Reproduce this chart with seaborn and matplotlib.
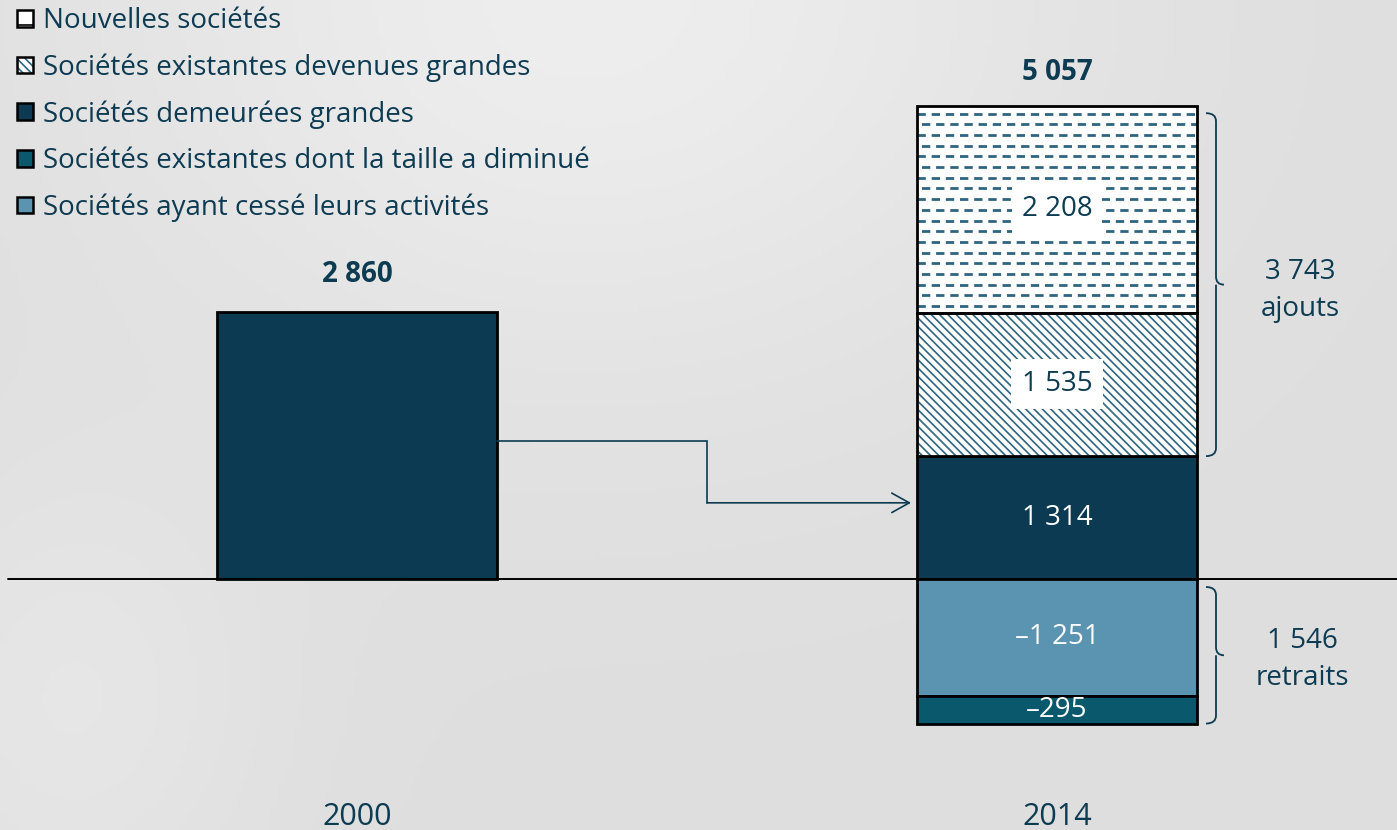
import numpy as np
import pandas as pd
import matplotlib
matplotlib.use("Agg")
import matplotlib.pyplot as plt
from matplotlib.patches import Patch, PathPatch
from matplotlib.path import Path
import seaborn as sns

# ---------------- data ----------------
years = ["2000", "2014"]
value_2000 = 2860
demeurees = 1314
devenues = 1535
nouvelles = 2208
cesse = -1251
diminue = -295
legend_labels = [
    "Nouvelles sociétés",
    "Sociétés existantes devenues grandes",
    "Sociétés demeurées grandes",
    "Sociétés existantes dont la taille a diminué",
    "Sociétés ayant cessé leurs activités",
]
total_2014 = demeurees + devenues + nouvelles
ajouts = devenues + nouvelles
retraits = -(cesse + diminue)

def fmt(v):
    s = f"{abs(v):,}".replace(",", " ")
    return ("\u2013" + s) if v < 0 else s

# ---------------- style ----------------
sns.set_theme(style="white")
plt.rcParams["font.family"] = ["Open Sans", "DejaVu Sans"]
plt.rcParams["lines.scale_dashes"] = False
plt.rcParams["hatch.linewidth"] = 1.2
TXT = "#0d3b52"
C_DEM = "#0c3a52"
C_DIM = "#09586c"
C_CES = "#5b94b1"
C_HATCH = "#2f6580"
FS = 20

W, H = 1397, 830
fig = plt.figure(figsize=(W / 100, H / 100), dpi=100)

# background gradient
bg = fig.add_axes([0, 0, 1, 1], zorder=-5)
yy, xx = np.mgrid[0:1:200j, 0:1:300j]
g = (0.872 + 0.06 * np.exp(-(((xx - 0.42) / 0.35) ** 2 + ((yy - 0.0) / 0.45) ** 2))
     + 0.03 * np.exp(-(((xx - 0.05) / 0.15) ** 2 + ((yy - 0.85) / 0.3) ** 2)))
bg.imshow(np.dstack([g, g, g]).clip(0, 1), aspect="auto", extent=[0, 1, 0, 1])
bg.set_axis_off()

ax = fig.add_axes([0, 0, 1, 1])
ax.patch.set_alpha(0)

# px scale
upp = 10.695            # data units per pixel (vertical)
zero_px = 579
ylim = (-(H - zero_px) * upp, zero_px * upp)
xlim = (-357 / 700, 1 + (W - 1057) / 700)
bw = 0.4

segs = pd.DataFrame({
    "year": ["2000", "2014", "2014", "2014", "2014", "2014"],
    "segment": ["base", "demeurees", "devenues", "nouvelles", "cesse", "diminue"],
    "height": [value_2000, demeurees, devenues, nouvelles, cesse, diminue],
    "bottom": [0, 0, demeurees, demeurees + devenues, 0, cesse],
})

def draw(seg, **kw):
    row = segs[segs.segment == seg]
    n0 = len(ax.patches)
    sns.barplot(data=row, x="year", y="height", order=years, bottom=row["bottom"].iloc[0],
                width=bw, errorbar=None, saturation=1, ax=ax, **kw)
    return ax.patches[n0:]

draw("base", color=C_DEM, edgecolor="black", linewidth=2)
draw("demeurees", color=C_DEM, edgecolor="black", linewidth=2)
draw("devenues", color="white", edgecolor=C_HATCH, linewidth=0, hatch="\\\\\\\\")
p_new = draw("nouvelles", color="white", edgecolor="white", linewidth=0)
draw("cesse", color=C_CES, edgecolor="black", linewidth=2)
draw("diminue", color=C_DIM, edgecolor="black", linewidth=2)

# dashed pattern for "nouvelles"
bot = demeurees + devenues
step = 10.7 * upp
ys = np.arange(bot + step * 0.6, bot + nouvelles, step)
for i, yv in enumerate(ys):
    off = 0 if i % 2 == 0 else 7
    lc = ax.hlines(yv, 1 - bw / 2, 1 + bw / 2, colors=C_HATCH, linewidth=2.0,
                   linestyles=[(off, (6.0, 4.2))], zorder=3)
    for p in p_new:
        lc.set_clip_path(p)

# outlines for hatched segments
for seg in ["devenues", "nouvelles"]:
    row = segs[segs.segment == seg]
    sns.barplot(data=row, x="year", y="height", order=years, bottom=row["bottom"].iloc[0],
                width=bw, errorbar=None, fill=False, color="black", linewidth=2, ax=ax,
                zorder=4)

# zero line
ax.axhline(0, xmin=8 / W, xmax=1, color="black", lw=1.4, zorder=5)

# segment labels
ax.text(1, demeurees / 2, fmt(demeurees), ha="center", va="center", color="white", fontsize=FS)
ax.text(1, demeurees + devenues / 2, fmt(devenues), ha="center", va="center", color=TXT,
        fontsize=FS, zorder=6,
        bbox=dict(boxstyle="square,pad=0.4", fc="white", ec="none"))
ax.text(1, bot + nouvelles / 2, fmt(nouvelles), ha="center", va="center", color=TXT,
        fontsize=FS, zorder=6,
        bbox=dict(boxstyle="square,pad=0.35", fc="white", ec="none"))
ax.text(1, cesse / 2, fmt(cesse), ha="center", va="center", color="white", fontsize=FS)
ax.text(1, cesse + diminue / 2, fmt(diminue), ha="center", va="center", color="white", fontsize=FS)

# totals
ax.annotate(fmt(value_2000), (0, value_2000), xytext=(0, 27), textcoords="offset points",
            ha="center", va="center", fontsize=FS, fontweight="bold", color=TXT)
ax.annotate(fmt(total_2014), (1, total_2014), xytext=(0, 24), textcoords="offset points",
            ha="center", va="center", fontsize=FS, fontweight="bold", color=TXT)

# year labels
for i, yr in enumerate(years):
    ax.text(i, 1 - 817 / H, yr, transform=ax.get_xaxis_transform(), ha="center",
            va="center", fontsize=22, color=TXT)

# connector arrow
px = 1 / 700
y1 = value_2000 * 0.515
y2 = demeurees * 0.62
xm = 0.5
ax.plot([bw / 2, xm, xm], [y1, y1, y2], color=TXT, lw=1.2, solid_joinstyle="miter", zorder=3)
ax.annotate("", xy=(1 - bw / 2 - 6 * px, y2), xytext=(xm, y2),
            arrowprops=dict(arrowstyle="->,head_length=0.9,head_width=0.5", color=TXT,
                            lw=1.2, mutation_scale=14, shrinkA=0, shrinkB=0))

# braces
def brace(y_top, y_bot, x0):
    w1 = 10 * px
    w2 = 18 * px
    c = 8 * upp
    ym = (y_top + y_bot) / 2
    verts = [
        (x0, y_top), (x0 + w1, y_top), (x0 + w1, y_top - c),
        (x0 + w1, ym + c),
        (x0 + w1, ym), (x0 + w2, ym), (x0 + w2, ym),
        (x0 + w1, ym), (x0 + w1, ym - c),
        (x0 + w1, y_bot + c),
        (x0 + w1, y_bot), (x0, y_bot), (x0, y_bot),
    ]
    codes = [Path.MOVETO, Path.CURVE3, Path.CURVE3, Path.LINETO,
             Path.CURVE3, Path.CURVE3, Path.LINETO,
             Path.MOVETO, Path.CURVE3, Path.LINETO,
             Path.CURVE3, Path.CURVE3, Path.LINETO]
    ax.add_patch(PathPatch(Path(verts, codes), fc="none", ec=TXT, lw=1.3, zorder=5))

bx = 1 + bw / 2 + 9 * px
top_b = total_2014 - 7 * upp
brace(top_b, demeurees, bx)
brace(-8 * upp, cesse + diminue, bx)

ax.text(1 + 243 * px, (top_b + demeurees) / 2 - 6 * upp, f"{fmt(ajouts)}\najouts",
        ha="center", va="center", fontsize=FS, color=TXT, linespacing=1.45)
ax.text(1 + 245 * px, (cesse + diminue) / 2 - 8 * upp, f"{fmt(retraits)}\nretraits",
        ha="center", va="center", fontsize=FS, color=TXT, linespacing=1.45)

# legend
handles = [
    Patch(facecolor="white", edgecolor="black", hatch="-", linewidth=1.8),
    (Patch(facecolor="white", edgecolor=C_HATCH, hatch="\\\\\\\\", linewidth=0),
     Patch(facecolor="none", edgecolor="black", linewidth=1.8)),
    Patch(facecolor=C_DEM, edgecolor="black", linewidth=1.8),
    Patch(facecolor=C_DIM, edgecolor="black", linewidth=1.8),
    Patch(facecolor=C_CES, edgecolor="black", linewidth=1.8),
]
leg = ax.legend(handles, legend_labels, loc="upper left", bbox_to_anchor=(17 / W, 1 - 7 / H),
                frameon=False, fontsize=20, handlelength=0.56, handleheight=0.56,
                handletextpad=0.36, labelspacing=0.66, borderpad=0, borderaxespad=0)
for t in leg.get_texts():
    t.set_color(TXT)

ax.set_xlim(*xlim)
ax.set_ylim(*ylim)
ax.set_axis_off()

fig.savefig("out.png", dpi=100)
